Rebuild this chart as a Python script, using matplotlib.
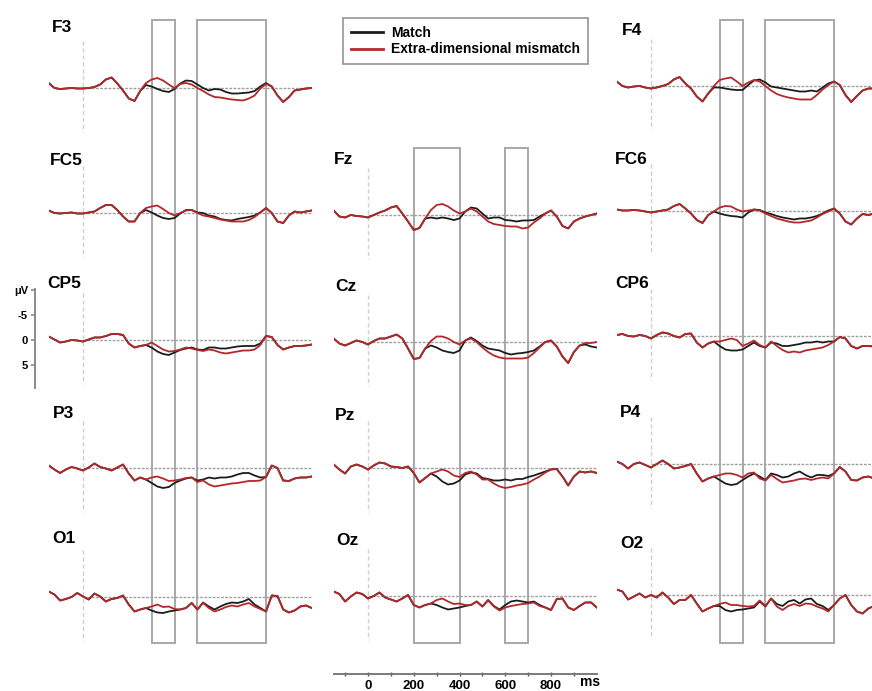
import numpy as np
import matplotlib
matplotlib.use("Agg")
import matplotlib.pyplot as plt
from matplotlib.patches import Rectangle
from matplotlib.lines import Line2D

plt.rcParams['font.family'] = ['Liberation Sans', 'DejaVu Sans']

W, H = 872, 691          # output size in px
MS_PX = 0.2288           # px per ms
UV_PX = 5.0              # px per microvolt

# time axis of every trace (ms)
times = np.arange(-150, 1001, 25)

# ERP amplitudes in microvolts (negative up, as plotted)
F3_match = [-1.0, 0.0, 0.2, 0.1, 0.0, 0.1, 0.1, 0.0, -0.2, -0.7,
            -1.7, -2.1, -0.9, 0.5, 2.1, 2.6, 0.6, -0.6, -0.3, 0.2,
            0.6, 0.8, 0.2, -0.9, -1.5, -1.4, -0.7, 0.0, 0.5, 0.2,
            0.3, 0.8, 1.1, 1.1, 1.0, 0.9, 0.6, -0.3, -1.0, -0.3,
            1.5, 2.8, 1.8, 0.5, 0.3, 0.1, 0.0]
F3_mismatch = [-1.0, 0.0, 0.2, 0.1, 0.0, 0.1, 0.1, 0.0, -0.2, -0.7,
               -1.7, -2.1, -0.9, 0.5, 2.1, 2.6, 0.6, -1.0, -1.7, -2.0,
               -1.5, -0.7, 0.0, -0.8, -1.0, -0.7, 0.0, 0.6, 1.3, 1.8,
               1.9, 2.1, 2.3, 2.4, 2.5, 2.1, 1.5, 0.1, -0.8, -0.3,
               1.5, 2.8, 1.8, 0.5, 0.3, 0.1, 0.0]

FC5_match = [-0.5, 0.0, 0.1, 0.0, -0.1, 0.1, 0.1, -0.1, -0.3, -1.0,
             -1.6, -1.6, -0.6, 0.7, 1.7, 1.7, 0.0, -0.6, -0.1, 0.5,
             1.0, 1.2, 1.0, 0.1, -0.6, -0.6, -0.1, 0.0, 0.5, 0.7,
             1.2, 1.4, 1.5, 1.2, 1.0, 0.8, 0.5, -0.1, -1.0, 0.0,
             1.7, 2.0, 0.5, -0.3, -0.1, -0.3, -0.5]
FC5_mismatch = [-0.5, 0.0, 0.1, 0.0, -0.1, 0.1, 0.1, -0.1, -0.3, -1.0,
                -1.6, -1.6, -0.6, 0.7, 1.7, 1.7, 0.0, -1.0, -1.3, -1.5,
                -0.8, 0.0, 0.5, 0.0, -0.5, -0.6, 0.0, 0.5, 0.7, 1.0,
                1.3, 1.5, 1.7, 1.7, 1.7, 1.4, 0.8, -0.1, -1.0, 0.0,
                1.7, 2.0, 0.5, -0.3, -0.1, -0.3, -0.5]

CP5_match = [-0.7, -0.1, 0.5, 0.3, 0.0, 0.1, 0.3, -0.1, -0.5, -0.5,
             -0.8, -1.2, -1.2, -1.0, 0.7, 1.5, 1.2, 1.0, 1.5, 2.3,
             2.8, 3.0, 2.5, 2.0, 1.7, 1.5, 1.9, 2.0, 1.5, 1.5,
             1.7, 1.7, 1.5, 1.3, 1.2, 1.2, 1.2, 0.7, -0.8, -0.6,
             1.0, 1.9, 1.5, 1.2, 1.2, 1.1, 0.9]
CP5_mismatch = [-0.7, -0.1, 0.5, 0.3, 0.0, 0.1, 0.3, -0.1, -0.5, -0.5,
                -0.8, -1.2, -1.2, -1.0, 0.7, 1.5, 1.2, 1.0, 0.5, 1.2,
                1.9, 2.3, 2.2, 1.9, 1.5, 1.7, 2.0, 2.2, 1.9, 2.1,
                2.5, 2.7, 2.5, 2.3, 2.1, 2.1, 1.9, 1.0, -0.8, -0.6,
                1.0, 1.9, 1.5, 1.2, 1.2, 1.1, 0.9]

P3_match = [-0.5, 0.3, 1.0, 0.3, -0.2, 0.1, 0.5, -0.1, -0.9, -0.2,
            0.1, 0.5, -0.1, -0.7, 1.1, 2.5, 1.9, 2.3, 3.0, 3.7,
            4.0, 3.8, 3.0, 2.5, 2.1, 1.9, 2.5, 2.3, 1.9, 2.1,
            1.9, 1.9, 1.7, 1.3, 1.0, 1.0, 1.5, 1.9, 1.8, -0.5,
            0.0, 2.5, 2.6, 2.1, 1.9, 1.9, 1.7]
P3_mismatch = [-0.5, 0.3, 1.0, 0.3, -0.2, 0.1, 0.5, -0.1, -0.9, -0.2,
               0.1, 0.5, -0.1, -0.7, 1.1, 2.5, 1.9, 2.3, 1.9, 1.7,
               2.1, 2.6, 2.5, 2.3, 2.0, 1.9, 2.8, 2.5, 3.3, 3.7,
               3.5, 3.3, 3.1, 3.0, 2.8, 2.6, 2.6, 2.5, 1.8, -0.5,
               0.0, 2.5, 2.6, 2.1, 1.9, 1.9, 1.7]

O1_match = [-1.1, -0.5, 0.7, 0.4, 0.0, -0.8, -0.1, 0.5, -0.7, -0.1,
            0.9, 0.4, 0.2, -0.3, 1.5, 2.9, 2.5, 2.2, 2.7, 3.1,
            3.2, 2.9, 2.7, 2.5, 2.2, 1.2, 2.5, 1.1, 1.9, 2.5,
            1.9, 1.4, 1.1, 1.2, 0.9, 0.4, 1.5, 2.2, 2.9, -0.3,
            -0.2, 2.5, 3.1, 2.7, 1.9, 1.7, 2.2]
O1_mismatch = [-1.1, -0.5, 0.7, 0.4, 0.0, -0.8, -0.1, 0.5, -0.7, -0.1,
               0.9, 0.4, 0.2, -0.3, 1.5, 2.9, 2.5, 2.2, 1.9, 1.5,
               2.0, 1.9, 2.4, 2.5, 2.2, 1.2, 2.5, 1.2, 2.2, 2.9,
               2.5, 2.0, 1.7, 1.9, 1.5, 1.2, 1.9, 2.4, 2.9, -0.3,
               -0.2, 2.5, 3.1, 2.7, 1.9, 1.7, 2.2]

Fz_match = [-0.9, 0.3, 0.5, 0.0, 0.2, 0.3, 0.5, 0.0, -0.5, -0.9,
            -1.5, -1.8, -0.3, 1.3, 3.0, 2.6, 0.7, 0.5, 0.7, 0.5,
            0.7, 1.0, 0.7, -0.7, -1.5, -1.3, -0.3, 0.7, 0.5, 0.5,
            1.0, 1.1, 1.3, 1.1, 1.1, 1.0, 0.3, -0.3, -0.9, 0.3,
            2.2, 2.7, 1.3, 0.7, 0.3, 0.0, -0.3]
Fz_mismatch = [-0.9, 0.3, 0.5, 0.0, 0.2, 0.3, 0.5, 0.0, -0.5, -0.9,
               -1.5, -1.8, -0.3, 1.3, 3.0, 2.6, 0.7, -1.0, -2.0, -2.2,
               -1.7, -0.9, -0.3, -0.7, -1.3, -0.7, 0.3, 1.3, 1.8, 2.0,
               2.2, 2.3, 2.3, 2.7, 2.5, 1.5, 0.7, -0.3, -0.9, 0.3,
               2.2, 2.7, 1.3, 0.7, 0.3, 0.0, -0.3]

Cz_match = [-0.7, 0.3, 0.7, 0.2, -0.3, 0.0, 0.5, -0.2, -0.7, -0.7,
            -1.1, -1.5, -0.7, 1.3, 3.4, 3.2, 1.3, 0.7, 1.1, 1.7,
            2.0, 2.2, 1.7, -0.3, -0.9, -0.2, 0.7, 1.3, 1.5, 1.7,
            2.2, 2.5, 2.3, 2.2, 2.0, 1.7, 0.9, 0.0, -0.3, 0.9,
            2.9, 4.2, 2.0, 0.7, 0.5, 0.9, 1.1]
Cz_mismatch = [-0.7, 0.3, 0.7, 0.2, -0.3, 0.0, 0.5, -0.2, -0.7, -0.7,
               -1.1, -1.5, -0.7, 1.3, 3.4, 3.2, 1.3, -0.2, -1.1, -1.1,
               -0.7, 0.0, 0.5, -0.3, -0.7, 0.0, 1.1, 2.0, 2.7, 3.1,
               3.3, 3.3, 3.3, 3.3, 3.1, 2.2, 1.1, 0.0, -0.3, 0.9,
               2.9, 4.2, 2.0, 0.7, 0.2, 0.2, 0.0]

Pz_match = [-0.7, 0.3, 1.1, -0.3, -0.7, -0.3, 0.3, -0.5, -1.1, -0.9,
            -0.3, -0.2, 0.0, -0.3, 1.0, 2.9, 2.0, 1.1, 1.7, 2.7,
            3.3, 3.1, 2.5, 1.3, 0.9, 1.1, 2.0, 2.2, 2.5, 2.5,
            2.3, 2.5, 2.2, 2.2, 1.8, 1.5, 1.1, 0.7, 0.3, 0.2,
            1.7, 3.5, 1.7, 0.7, 0.9, 0.7, 1.0]
Pz_mismatch = [-0.7, 0.3, 1.1, -0.3, -0.7, -0.3, 0.3, -0.5, -1.1, -0.9,
               -0.3, -0.2, 0.0, -0.3, 1.0, 2.9, 2.0, 1.1, 0.7, 0.3,
               0.7, 1.5, 1.8, 1.0, 0.7, 1.3, 2.3, 2.3, 3.1, 3.7,
               4.0, 3.8, 3.5, 3.3, 3.0, 2.3, 1.7, 0.9, 0.3, 0.2,
               1.7, 3.5, 1.7, 0.7, 0.9, 0.7, 1.0]

Oz_match = [-0.9, -0.4, 1.1, 0.1, -0.7, -0.4, 0.5, 0.0, -0.7, 0.3,
            0.7, 1.1, 0.5, -0.2, 1.8, 2.3, 1.8, 1.5, 1.8, 2.3,
            2.7, 2.5, 2.3, 2.0, 1.8, 1.1, 2.1, 0.8, 2.0, 2.7,
            1.8, 1.1, 0.9, 1.1, 1.3, 1.1, 1.8, 2.3, 2.8, 0.6,
            0.5, 2.3, 2.8, 2.0, 1.3, 1.3, 2.3]
Oz_mismatch = [-0.9, -0.4, 1.1, 0.1, -0.7, -0.4, 0.5, 0.0, -0.7, 0.3,
               0.7, 1.1, 0.5, -0.2, 1.8, 2.3, 1.8, 1.5, 0.8, 0.5,
               1.1, 1.6, 1.5, 1.8, 1.8, 1.1, 2.1, 0.9, 2.1, 2.9,
               2.3, 2.0, 1.8, 1.6, 1.5, 1.3, 2.0, 2.3, 2.8, 0.6,
               0.5, 2.3, 2.8, 2.0, 1.3, 1.3, 2.3]

F4_match = [-0.9, 0.0, 0.3, 0.1, 0.0, 0.3, 0.5, 0.3, 0.0, -0.4,
            -1.3, -1.8, -0.5, 0.5, 2.1, 3.1, 1.5, 0.3, 0.3, 0.5,
            0.7, 0.8, 0.8, -0.2, -1.1, -1.3, -0.7, 0.1, 0.3, 0.5,
            0.7, 0.9, 1.1, 1.1, 0.9, 1.1, 0.3, -0.5, -0.9, -0.2,
            1.8, 3.2, 2.0, 0.9, 0.5, 0.5, 0.3]
F4_mismatch = [-0.9, 0.0, 0.3, 0.1, 0.0, 0.3, 0.5, 0.3, 0.0, -0.4,
               -1.3, -1.8, -0.5, 0.5, 2.1, 3.1, 1.5, 0.0, -1.2, -1.5,
               -1.7, -0.9, 0.0, -0.7, -1.2, -0.9, 0.0, 0.9, 1.6, 2.0,
               2.3, 2.5, 2.7, 2.7, 2.7, 1.8, 0.7, -0.2, -0.9, -0.2,
               1.8, 3.2, 2.0, 0.9, 0.5, 0.5, 0.3]

FC6_match = [-0.3, -0.1, -0.1, -0.2, -0.1, 0.1, 0.3, 0.1, -0.1, -0.3,
             -1.0, -1.4, -0.5, 0.5, 1.8, 2.4, 0.8, 0.1, 0.5, 0.8,
             1.0, 1.1, 1.3, 0.3, -0.3, -0.2, 0.3, 0.6, 1.0, 1.3,
             1.5, 1.7, 1.5, 1.5, 1.3, 1.0, 0.5, -0.1, -0.5, 0.5,
             2.1, 2.7, 1.5, 0.6, 0.8, 0.5, 0.3]
FC6_mismatch = [-0.3, -0.1, -0.1, -0.2, -0.1, 0.1, 0.3, 0.1, -0.1, -0.3,
                -1.0, -1.4, -0.5, 0.5, 1.8, 2.4, 0.8, 0.1, -0.7, -1.0,
                -0.9, -0.3, 0.1, -0.1, -0.3, -0.1, 0.5, 1.0, 1.5, 1.8,
                2.1, 2.3, 2.3, 2.1, 1.9, 1.3, 0.6, 0.1, -0.5, 0.5,
                2.1, 2.7, 1.5, 0.6, 0.8, 0.5, 0.3]

CP6_match = [-0.2, -0.4, 0.0, 0.1, -0.2, 0.0, 0.5, -0.2, -0.7, -0.5,
             0.0, 0.3, -0.4, -0.5, 1.3, 2.3, 1.5, 1.1, 2.0, 2.7,
             2.9, 2.9, 2.7, 2.0, 1.3, 2.0, 2.3, 1.3, 1.5, 2.0,
             2.0, 1.8, 1.6, 1.3, 1.3, 1.1, 1.3, 1.1, 1.1, 0.2,
             0.5, 2.0, 2.5, 2.0, 2.0, 2.1, 2.3]
CP6_mismatch = [-0.2, -0.4, 0.0, 0.1, -0.2, 0.0, 0.5, -0.2, -0.7, -0.5,
                0.0, 0.3, -0.4, -0.5, 1.3, 2.3, 1.5, 1.1, 1.1, 0.8,
                0.5, 0.8, 2.0, 1.5, 0.9, 1.8, 2.3, 1.1, 2.0, 2.8,
                3.3, 3.1, 3.3, 2.9, 2.7, 2.5, 2.3, 1.8, 1.1, 0.2,
                0.5, 2.0, 2.5, 2.0, 2.0, 2.1, 2.3]

P4_match = [-0.5, 0.0, 0.9, 0.0, -0.3, 0.2, 0.7, 0.0, -0.7, 0.0,
            0.9, 0.7, 0.4, 0.0, 1.9, 3.5, 2.9, 2.5, 3.2, 3.9,
            4.2, 4.0, 3.2, 2.5, 1.9, 2.5, 3.2, 1.9, 2.2, 2.7,
            2.5, 1.9, 1.5, 2.2, 2.7, 2.2, 2.2, 2.4, 1.9, 0.6,
            1.5, 3.2, 3.3, 2.7, 2.5, 2.9, 3.1]
P4_mismatch = [-0.5, 0.0, 0.9, 0.0, -0.3, 0.2, 0.7, 0.0, -0.7, 0.0,
               0.9, 0.7, 0.4, 0.0, 1.9, 3.5, 2.9, 2.5, 2.2, 1.9,
               1.9, 2.2, 2.7, 1.9, 1.7, 2.9, 3.3, 2.2, 3.0, 3.7,
               3.5, 3.3, 3.0, 2.9, 3.2, 2.9, 2.7, 2.9, 1.9, 0.6,
               1.5, 3.2, 3.3, 2.7, 2.5, 2.9, 3.1]

O2_match = [-1.1, -0.7, 0.9, 0.3, -0.3, 0.5, 0.0, 0.5, -0.5, 0.5,
            1.8, 1.0, 1.0, 0.0, 1.7, 3.3, 2.7, 2.2, 2.2, 3.0,
            3.3, 3.0, 2.9, 2.7, 2.5, 1.3, 2.3, 0.7, 1.8, 2.2,
            1.3, 1.0, 1.7, 0.9, 0.7, 1.8, 2.2, 3.0, 2.0, 0.7,
            0.0, 2.0, 3.3, 3.7, 2.7, 2.2, 2.3]
O2_mismatch = [-1.1, -0.7, 0.9, 0.3, -0.3, 0.5, 0.0, 0.5, -0.5, 0.5,
               1.8, 1.0, 1.0, 0.0, 1.7, 3.3, 2.7, 2.2, 1.8, 1.5,
               2.0, 2.0, 2.2, 2.3, 2.2, 1.1, 2.2, 0.7, 2.3, 3.0,
               2.2, 1.8, 2.2, 1.7, 1.8, 2.3, 2.7, 3.3, 2.0, 0.7,
               0.0, 2.0, 3.3, 3.7, 2.7, 2.2, 2.3]

# analysis windows (ms) for lateral and midline columns
lateral_windows = [(300, 400), (500, 800)]
midline_windows = [(200, 400), (600, 700)]

legend_labels = ["Match", "Extra-dimensional mismatch"]
time_ticks = [0, 200, 400, 600, 800]
uv_ticks = [-10, -5, 0, 5]
uv_ticklabels = ["\u03bcV", "-5", "0", "5"]

MATCH_C = '#1c1c1c'
MISMATCH_C = '#b3282b'
BOX_C = '#a8a8a8'

# layout: zero-ms pixel of each column, top of window boxes
col_zero = {'L': 83, 'M': 368, 'R': 651}
box_top = {'L': 20, 'M': 148, 'R': 20}
BOX_BOTTOM = 643

# name, column, baseline y px, label x px, label baseline y px, data
panels = [
    ("F3", 'L', 88, 52, 32, F3_match, F3_mismatch),
    ("FC5", 'L', 213, 50, 165, FC5_match, FC5_mismatch),
    ("CP5", 'L', 340, 47, 288, CP5_match, CP5_mismatch),
    ("P3", 'L', 468, 53, 418, P3_match, P3_mismatch),
    ("O1", 'L', 597, 52, 543, O1_match, O1_mismatch),
    ("Fz", 'M', 215, 334, 164, Fz_match, Fz_mismatch),
    ("Cz", 'M', 342, 335, 291, Cz_match, Cz_mismatch),
    ("Pz", 'M', 468, 335, 420, Pz_match, Pz_mismatch),
    ("Oz", 'M', 596, 336, 545, Oz_match, Oz_mismatch),
    ("F4", 'R', 86, 622, 35, F4_match, F4_mismatch),
    ("FC6", 'R', 211, 615, 164, FC6_match, FC6_mismatch),
    ("CP6", 'R', 336, 615, 288, CP6_match, CP6_mismatch),
    ("P4", 'R', 464, 620, 417, P4_match, P4_mismatch),
    ("O2", 'R', 595, 620, 548, O2_match, O2_mismatch),
]


def px_box(x0, x1, ytop, ybot):
    return [x0 / W, 1 - ybot / H, (x1 - x0) / W, (ybot - ytop) / H]


def col_span(col):
    z = col_zero[col]
    return z - 150 * MS_PX, z + 1000 * MS_PX


fig = plt.figure(figsize=(W / 100, H / 100), dpi=100)
fig.patch.set_facecolor('white')

# window boxes spanning each column (drawn first, behind traces)
for col in ['L', 'M', 'R']:
    x0, x1 = col_span(col)
    ov = fig.add_axes(px_box(x0, x1, box_top[col], BOX_BOTTOM))
    ov.set_xlim(-150, 1000)
    ov.set_ylim(0, 1)
    ov.axis('off')
    wins = midline_windows if col == 'M' else lateral_windows
    for a, b in wins:
        ov.add_patch(Rectangle((a, 0), b - a, 1, fill=False, ec=BOX_C,
                               lw=1.4, clip_on=False))

half = 12  # half height of each panel in microvolts
for name, col, base, lx, ly, m, mm in panels:
    x0, x1 = col_span(col)
    ax = fig.add_axes(px_box(x0, x1, base - half * UV_PX, base + half * UV_PX))
    ax.set_xlim(-150, 1000)
    ax.set_ylim(half, -half)
    ax.axis('off')
    ax.hlines(0, 0, 1000, color='#a0a0a0', lw=1.0, linestyles=(0, (2, 1)))
    ax.vlines(0, -9.5, 8.8, color='#cfcfcf', lw=1.0, linestyles=(0, (3, 2)))
    ax.plot(times, m, color=MATCH_C, lw=1.3, solid_joinstyle='round')
    ax.plot(times, mm, color=MISMATCH_C, lw=1.3, solid_joinstyle='round')
    fig.text(lx / W, 1 - ly / H, name, fontsize=12.5, fontweight='bold',
             ha='left', va='baseline')

# microvolt scale next to CP5
cp5_base = 340
sc = fig.add_axes(px_box(35, 36, cp5_base - half * UV_PX, cp5_base + half * UV_PX))
sc.set_ylim(half, -half)
sc.set_xticks([])
for s in ['top', 'right', 'bottom']:
    sc.spines[s].set_visible(False)
sc.patch.set_visible(False)
sc.spines['left'].set_bounds(-10.3, 9.5)
sc.spines['left'].set_color('#8a8a8a')
sc.spines['left'].set_linewidth(1.4)
sc.set_yticks(uv_ticks)
sc.set_yticklabels(uv_ticklabels, fontsize=8, fontweight='bold')
sc.tick_params(axis='y', length=3, width=1.2, color='#8a8a8a', pad=2)

# time axis under the midline column
x0, x1 = col_span('M')
tx = fig.add_axes(px_box(x0, x1, 660, 674))
tx.set_xlim(-150, 1000)
tx.set_yticks([])
for s in ['top', 'right', 'left']:
    tx.spines[s].set_visible(False)
tx.patch.set_visible(False)
tx.spines['bottom'].set_bounds(-150, 1000)
tx.spines['bottom'].set_color('#7a7a7a')
tx.spines['bottom'].set_linewidth(1.4)
tx.set_xticks(time_ticks)
tx.set_xticklabels([str(t) for t in time_ticks], fontsize=9.5, fontweight='bold')
tx.set_xticks(np.arange(-100, 1000, 100), minor=True)
tx.tick_params(axis='x', which='both', direction='inout', length=3, width=1.0,
               color='#555555', pad=2.5)
tx.text(970, -0.55, "ms", transform=tx.get_xaxis_transform(), fontsize=10,
        fontweight='bold', ha='center', va='center')

# legend
handles = [Line2D([], [], color=MATCH_C, lw=2.0),
           Line2D([], [], color=MISMATCH_C, lw=2.0)]
leg = fig.legend(handles, legend_labels, loc='upper left',
                 bbox_to_anchor=(343 / W, 1 - 18 / H), frameon=True,
                 fancybox=False, edgecolor='#7a7a7a',
                 prop={'weight': 'bold', 'size': 10}, handlelength=2.3,
                 borderpad=0.55, labelspacing=0.2, handletextpad=0.6,
                 borderaxespad=0)
leg.get_frame().set_linewidth(1.2)

fig.savefig("out.png", dpi=100, facecolor='white')
